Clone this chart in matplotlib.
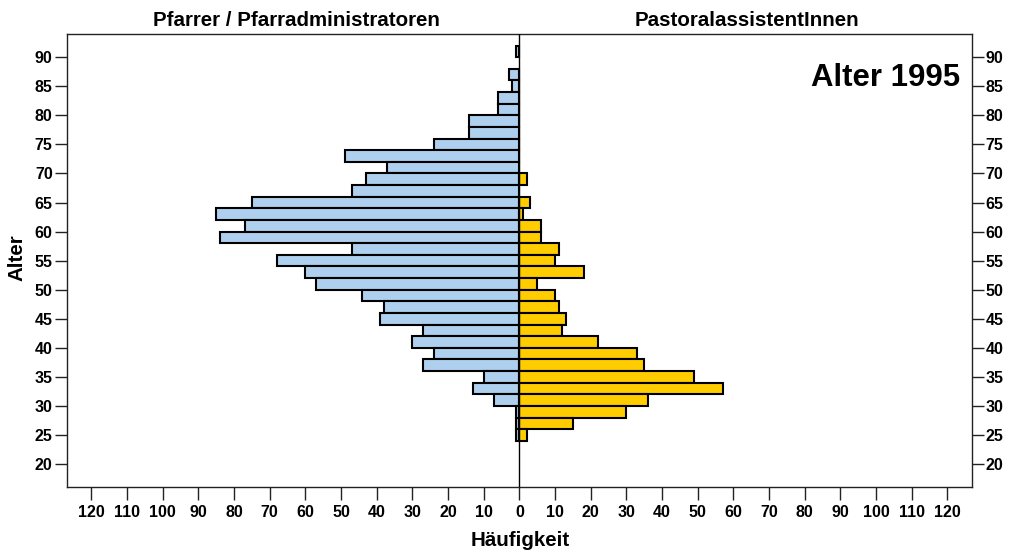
import matplotlib
matplotlib.use("Agg")
import matplotlib.pyplot as plt
import numpy as np

plt.rcParams['font.family'] = ['Liberation Sans', 'DejaVu Sans']
plt.rcParams['font.weight'] = 'bold'

# age bins (lower bound, width 2 years)
age_bins = [90, 88, 86, 84, 82, 80, 78, 76, 74, 72, 70, 68, 66, 64, 62, 60, 58,
            56, 54, 52, 50, 48, 46, 44, 42, 40, 38, 36, 34, 32, 30, 28, 26, 24]
pfarrer = [1, 0, 3, 2, 6, 6, 14, 14, 24, 49, 37, 43, 47, 75, 85, 77, 84,
           47, 68, 60, 57, 44, 38, 39, 27, 30, 24, 27, 10, 13, 7, 1, 1, 1]
pastoral = [0, 0, 0, 0, 0, 0, 0, 0, 0, 0, 0, 2, 0, 3, 1, 6, 6,
            11, 10, 18, 5, 10, 11, 13, 12, 22, 33, 35, 49, 57, 36, 30, 15, 2]

x_ticks = list(range(-120, 130, 10))
y_ticks = list(range(20, 95, 5))

W, H = 1013, 555
fig = plt.figure(figsize=(W / 100, H / 100), dpi=100)
left, right, top, bottom = 66.7, 971.7, 34, 486.7
ax = fig.add_axes([left / W, 1 - bottom / H, (right - left) / W, (bottom - top) / H])

ages = np.array(age_bins) + 1.0
pf = np.array(pfarrer, dtype=float)
pa = np.array(pastoral, dtype=float)
m1 = pf > 0
m2 = pa > 0
ax.barh(ages[m1], -pf[m1], height=2, color='#aed0ee', edgecolor='black', linewidth=1.5, zorder=2)
ax.barh(ages[m2], pa[m2], height=2, color='#ffcc00', edgecolor='black', linewidth=1.5, zorder=2)
ax.axvline(0, color='black', linewidth=1.0, zorder=3)

ax.set_xlim(-126.9, 126.8)
ax.set_ylim(16.1, 94.0)
ax.set_xticks(x_ticks)
ax.set_xticklabels([str(abs(v)) for v in x_ticks])
ax.set_yticks(y_ticks)
ax.set_yticklabels([str(v) for v in y_ticks])
ax.tick_params(axis='x', direction='out', length=9.5, width=1, colors='#222222',
               labelcolor='black', labelsize=11.5, pad=4)
ax.tick_params(axis='y', direction='out', length=8.6, width=1, colors='#222222',
               labelcolor='black', labelsize=11.5, pad=1.5, right=True, labelright=True)
for lab in ax.get_xticklabels() + ax.get_yticklabels():
    lab.set_fontweight('bold')
for s in ax.spines.values():
    s.set_color('#222222')
    s.set_linewidth(1.0)

fig.text(296 / W, 1 - 26 / H, 'Pfarrer / Pfarradministratoren', ha='center', va='baseline',
         fontsize=14.8, fontweight='bold')
fig.text(747 / W, 1 - 26 / H, 'PastoralassistentInnen', ha='center', va='baseline',
         fontsize=14.8, fontweight='bold')
fig.text(960 / W, 1 - 85.7 / H, 'Alter 1995', ha='right', va='baseline',
         fontsize=22.4, fontweight='bold')
fig.text(17 / W, 1 - 258 / H, 'Alter', ha='center', va='center', rotation=90,
         fontsize=14.8, fontweight='bold')
fig.text(520 / W, 1 - 541 / H, 'Häufigkeit', ha='center', va='center',
         fontsize=14.8, fontweight='bold')

fig.savefig('out.png', dpi=100)
